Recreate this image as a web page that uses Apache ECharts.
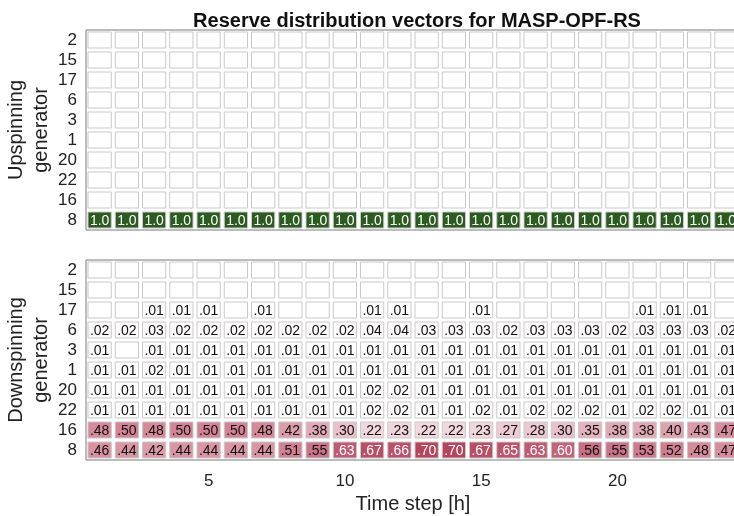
<!DOCTYPE html>
<html>
<head>
<meta charset="utf-8">
<script src="https://cdn.jsdelivr.net/npm/echarts@6/dist/echarts.min.js"></script>
<style>
  html, body { margin: 0; padding: 0; background: #fff; }
  #chart { width: 734px; height: 516px; }
</style>
</head>
<body>
<div id="chart"></div>
<script>
// time steps (hours) and generator rows, top to bottom
var timeSteps = [1, 2, 3, 4, 5, 6, 7, 8, 9, 10, 11, 12, 13, 14, 15, 16, 17, 18, 19, 20, 21, 22, 23, 24]
var generators = ['2', '15', '17', '6', '3', '1', '20', '22', '16', '8']

var zeros = [0, 0, 0, 0, 0, 0, 0, 0, 0, 0, 0, 0, 0, 0, 0, 0, 0, 0, 0, 0, 0, 0, 0, 0]

// upspinning: only generator 8 carries reserve
var up8 = [1.0, 1.0, 1.0, 1.0, 1.0, 1.0, 1.0, 1.0, 1.0, 1.0, 1.0, 1.0, 1.0, 1.0, 1.0, 1.0, 1.0, 1.0, 1.0, 1.0, 1.0, 1.0, 1.0, 1.0]

// downspinning
var down17 = [0, 0, .01, .01, .01, 0, .01, 0, 0, 0, .01, .01, 0, 0, .01, 0, 0, 0, 0, 0, .01, .01, .01, 0]
var down6 = [.02, .02, .03, .02, .02, .02, .02, .02, .02, .02, .04, .04, .03, .03, .03, .02, .03, .03, .03, .02, .03, .03, .03, .02]
var down3 = [.01, 0, .01, .01, .01, .01, .01, .01, .01, .01, .01, .01, .01, .01, .01, .01, .01, .01, .01, .01, .01, .01, .01, .01]
var down1 = [.01, .01, .02, .01, .01, .01, .01, .01, .01, .01, .01, .01, .01, .01, .01, .01, .01, .01, .01, .01, .01, .01, .01, .01]
var down20 = [.01, .01, .01, .01, .01, .01, .01, .01, .01, .01, .02, .02, .01, .01, .01, .01, .01, .01, .01, .01, .01, .01, .01, .01]
var down22 = [.01, .01, .01, .01, .01, .01, .01, .01, .01, .01, .02, .02, .01, .01, .02, .01, .02, .02, .02, .01, .02, .02, .01, .01]
var down16 = [.48, .50, .48, .50, .50, .50, .48, .42, .38, .30, .22, .23, .22, .22, .23, .27, .28, .30, .35, .38, .38, .40, .43, .47]
var down8 = [.46, .44, .42, .44, .44, .44, .44, .51, .55, .63, .67, .66, .70, .70, .67, .65, .63, .60, .56, .55, .53, .52, .48, .47]

var upRows = [zeros, zeros, zeros, zeros, zeros, zeros, zeros, zeros, zeros, up8]
var downRows = [zeros, zeros, down17, down6, down3, down1, down20, down22, down16, down8]

function toCells (rows) {
  var data = []
  for (var r = 0; r < rows.length; r++) {
    for (var t = 0; t < timeSteps.length; t++) {
      data.push([t, r, rows[r][t]])
    }
  }
  return data
}

var FONT = '"Liberation Sans", Arial, Helvetica, sans-serif'

function fmt (v) {
  if (v === 0) return ''
  if (v >= 1) return v.toFixed(1)
  return v.toFixed(2).replace(/^0/, '')
}

function renderCell (params, api) {
  var v = api.value(2)
  var p = api.coord([api.value(0), api.value(1)])
  var s = api.size([1, 1])
  return {
    type: 'group',
    children: [
      {
        type: 'rect',
        shape: { x: p[0] - s[0] / 2 + 2, y: p[1] - s[1] / 2 + 2, width: s[0] - 4, height: s[1] - 4 },
        style: { fill: api.visual('color'), stroke: '#c9c9c9', lineWidth: 1 }
      },
      {
        type: 'text',
        style: {
          text: fmt(v), x: p[0], y: p[1] + 1, align: 'center', verticalAlign: 'middle',
          fill: v >= 0.6 ? '#ffffff' : '#111111', fontSize: 14, fontFamily: FONT
        }
      }
    ]
  }
}

function yAxisFor (gi, name) {
  return {
    type: 'category', gridIndex: gi, data: generators, inverse: true,
    axisLine: { show: false }, axisTick: { show: false }, splitLine: { show: false },
    axisLabel: { color: '#222', fontSize: 17, fontFamily: FONT, margin: 9, interval: 0 },
    name: name, nameLocation: 'middle', nameRotate: 90, nameGap: 32, nameMoveOverlap: false,
    nameTextStyle: { color: '#222', fontSize: 20, fontFamily: FONT, lineHeight: 25 }
  }
}

var chart = echarts.init(document.getElementById('chart'))
chart.setOption({
  animation: false,
  title: {
    text: 'Reserve distribution vectors for MASP-OPF-RS',
    left: 412, top: 6, textAlign: 'center',
    textStyle: { fontSize: 20, fontWeight: 'bold', color: '#111', fontFamily: FONT }
  },
  grid: [
    { left: 86, top: 30, width: 654, height: 200, outerBoundsMode: 'none', show: true, borderColor: '#7a7a7a', borderWidth: 1, backgroundColor: '#fff' },
    { left: 86, top: 260, width: 654, height: 200, outerBoundsMode: 'none', show: true, borderColor: '#7a7a7a', borderWidth: 1, backgroundColor: '#fff' }
  ],
  xAxis: [
    {
      type: 'category', gridIndex: 0, data: timeSteps,
      axisLine: { show: false }, axisTick: { show: false }, axisLabel: { show: false }, splitLine: { show: false }
    },
    {
      type: 'category', gridIndex: 1, data: timeSteps,
      axisLine: { show: false }, axisTick: { show: false }, splitLine: { show: false },
      axisLabel: {
        color: '#222', fontSize: 17, fontFamily: FONT, margin: 13,
        interval: function (idx, val) { return Number(val) % 5 === 0 }
      },
      name: 'Time step [h]', nameLocation: 'middle', nameGap: 34,
      nameTextStyle: { color: '#222', fontSize: 20, fontFamily: FONT }
    }
  ],
  yAxis: [
    yAxisFor(0, 'Upspinning\ngenerator'),
    yAxisFor(1, 'Downspinning\ngenerator')
  ],
  visualMap: [
    {
      show: false, seriesIndex: 0, dimension: 2, min: 0, max: 1,
      inRange: { color: ['#ffffff', '#2b5b1f'] }
    },
    {
      show: false, seriesIndex: 1, dimension: 2, min: 0, max: 0.7,
      inRange: { color: ['#ffffff', '#f1d6dc', '#d88e9e', '#b6445d'] }
    }
  ],
  series: [
    { type: 'custom', xAxisIndex: 0, yAxisIndex: 0, renderItem: renderCell, data: toCells(upRows) },
    { type: 'custom', xAxisIndex: 1, yAxisIndex: 1, renderItem: renderCell, data: toCells(downRows) }
  ]
})
</script>
</body>
</html>
